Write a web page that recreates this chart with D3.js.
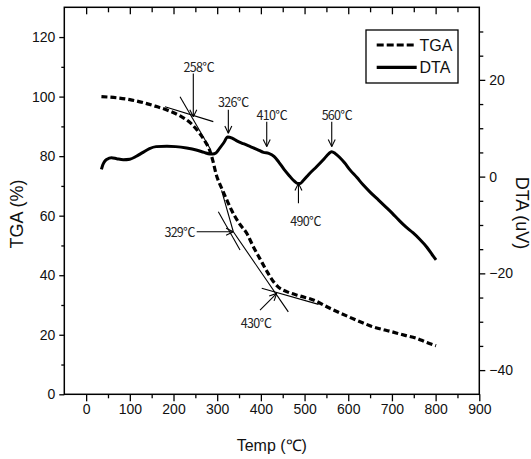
<!DOCTYPE html>
<html><head><meta charset="utf-8">
<script src="https://cdn.jsdelivr.net/npm/d3@7"></script>
<style>
html,body{margin:0;padding:0;background:#fff;}
svg{display:block;}
</style></head>
<body>
<script>
// ---- data ----
const tempTGA = [35, 70, 100, 130, 158, 185, 215, 240, 258, 272, 284, 290, 298, 310, 322, 333, 350, 368, 383, 398, 413, 428, 440, 459, 490, 520, 558, 600, 630, 654, 700, 730, 755, 780, 801];
const tgaValues = [100, 99.6, 99, 98, 96.8, 95.5, 93.5, 91, 88, 85, 81.5, 78.5, 73.7, 69.3, 65.3, 61.8, 57.5, 54, 49.5, 45.5, 41.5, 38, 36, 34.5, 33, 31.7, 28.9, 26.1, 24.2, 22.8, 21, 19.8, 18.9, 17.4, 16.3];
const tempDTA = [35, 38, 42, 48, 58, 70, 85, 100, 115, 128, 145, 160, 185, 205, 230, 252, 270, 283, 290, 297, 305, 315, 324, 335, 345, 360, 376, 392, 406, 418, 430, 441, 453, 465, 476, 484, 490, 497, 510, 528, 545, 555, 562, 570, 580, 592, 604, 620, 634, 650, 670, 685, 701, 716, 732, 748, 763, 780, 795, 801];
const dtaValues = [1.5, 2.4, 3.1, 3.6, 3.9, 3.7, 3.5, 3.6, 4.2, 4.9, 5.8, 6.2, 6.3, 6.2, 5.9, 5.5, 5.0, 4.7, 4.7, 4.9, 5.8, 7.0, 8.2, 7.9, 7.4, 6.8, 6.2, 5.6, 5.0, 4.8, 4.2, 3.0, 1.5, 0.2, -0.9, -1.4, -1.4, -0.8, 0.5, 2.1, 3.7, 4.7, 5.15, 4.8, 4.0, 2.8, 1.4, -0.2, -1.7, -3.2, -4.9, -6.2, -7.6, -9.0, -10.4, -11.6, -12.9, -14.6, -16.5, -17.2];

const xTickLabels = [0, 100, 200, 300, 400, 500, 600, 700, 800, 900];
const xMinorTicks = [-50, 50, 150, 250, 350, 450, 550, 650, 750, 850];
const tgaTickLabels = [0, 20, 40, 60, 80, 100, 120];
const tgaMinorTicks = [10, 30, 50, 70, 90, 110];
const dtaTickLabels = [-40, -20, 0, 20];
const dtaMinorTicks = [-35, -30, -25, -15, -10, -5, 5, 10, 15, 25, 30];

const seriesNames = ["TGA", "DTA"];
const titles = {x: "Temp (\u2103)", yLeft: "TGA (%)", yRight: "DTA (uV)"};

// annotations: labels (temp, value, axis), arrows, tangent lines
const annLabels = [
  {text: "258\u2103", t: 258, v: 109.6, axis: "tga", anchor: "middle"},
  {text: "326\u2103", t: 337, v: 15.2, axis: "dta", anchor: "middle"},
  {text: "410\u2103", t: 425, v: 12.7, axis: "dta", anchor: "middle"},
  {text: "560\u2103", t: 574, v: 12.7, axis: "dta", anchor: "middle"},
  {text: "490\u2103", t: 502, v: -9.3, axis: "dta", anchor: "middle"},
  {text: "329\u2103", t: 249, v: 54.4, axis: "tga", anchor: "end"},
  {text: "430\u2103", t: 389, v: 23.6, axis: "tga", anchor: "middle"}
];
// arrows: from [t,v] to [t,v] (head at 'to')
const annArrows = [
  {axis: "tga", from: [245.3, 107.8], to: [245.3, 93.2]},
  {axis: "dta", from: [325.5, 13.8], to: [325.5, 8.95]},
  {axis: "dta", from: [413.4, 11.35], to: [413.4, 6.2]},
  {axis: "dta", from: [562.2, 11.35], to: [562.2, 6.2]},
  {axis: "dta", from: [486, -5.5], to: [486, -1.4]},
  {axis: "tga", from: [253.1, 54.6], to: [336.9, 54.6]},
  {axis: "tga", from: [398, 28.3], to: [436.3, 33.9]}
];
const annLines = [
  {axis: "tga", from: [214.9, 99.97], to: [283.6, 82.6]},
  {axis: "tga", from: [180.5, 96.6], to: [291.1, 91.6]},
  {axis: "tga", from: [310, 68.5], to: [336.9, 54.6]},
  {axis: "tga", from: [302.6, 61.3], to: [352.3, 48.5]},
  {axis: "tga", from: [336.9, 54.6], to: [462.8, 27.7]},
  {axis: "tga", from: [401.9, 35.6], to: [532, 30.2]}
];

// ---- layout ----
const W = 531, H = 459;
const L = 64.3, R = 479.3, T = 7.3, B = 394.3;

const x = d3.scaleLinear().domain([-50, 900]).range([L, R]);
const yTGA = d3.scaleLinear().domain([0, 130]).range([B, T]);
const yDTA = d3.scaleLinear().domain([-45, 35]).range([B, T]);
const yOf = a => a === "tga" ? yTGA : yDTA;

const svg = d3.select("body").append("svg").attr("width", W).attr("height", H);
const tickFont = "'Liberation Sans Narrow','Liberation Sans',Arial,sans-serif";
const titleFont = "'Liberation Sans',Arial,sans-serif";
const cjkFont = "'Noto Sans CJK KR','Noto Sans CJK SC',sans-serif";

// frame
svg.append("rect").attr("x", L).attr("y", T).attr("width", R - L).attr("height", B - T)
  .attr("fill", "none").attr("stroke", "#000").attr("stroke-width", 1.5);

// bottom axis
svg.append("g").attr("transform", `translate(0,${B})`)
  .call(d3.axisBottom(x).tickValues(xTickLabels).tickSize(7).tickPadding(3).tickFormat(d3.format("d")));
svg.append("g").attr("transform", `translate(0,${B})`)
  .call(d3.axisBottom(x).tickValues(xMinorTicks.filter(d => d > -50)).tickSize(4).tickFormat(""));
// top axis (inward ticks)
svg.append("g").attr("transform", `translate(0,${T})`)
  .call(d3.axisBottom(x).tickValues(xTickLabels.filter(d => d < 900)).tickSize(7).tickFormat(""));
svg.append("g").attr("transform", `translate(0,${T})`)
  .call(d3.axisBottom(x).tickValues(xMinorTicks.filter(d => d > -50)).tickSize(5).tickFormat(""));
// left axis
svg.append("g").attr("transform", `translate(${L},0)`)
  .call(d3.axisLeft(yTGA).tickValues(tgaTickLabels).tickSize(5).tickPadding(4));
svg.append("g").attr("transform", `translate(${L},0)`)
  .call(d3.axisLeft(yTGA).tickValues(tgaMinorTicks).tickSize(3).tickFormat(""));
// right axis
svg.append("g").attr("transform", `translate(${R},0)`)
  .call(d3.axisRight(yDTA).tickValues(dtaTickLabels).tickSize(6).tickPadding(4));
svg.append("g").attr("transform", `translate(${R},0)`)
  .call(d3.axisRight(yDTA).tickValues(dtaMinorTicks).tickSize(4).tickFormat(""));

svg.selectAll(".domain").remove();
svg.selectAll(".tick line").attr("stroke", "#000").attr("stroke-width", 1.3);
svg.selectAll(".tick text").attr("font-family", tickFont).attr("font-size", 14).attr("fill", "#111");

// axis titles
svg.append("text").attr("transform", `translate(22.5,214) rotate(-90)`)
  .attr("text-anchor", "middle").attr("font-family", titleFont)
  .attr("font-size", 18).attr("fill", "#111").text(titles.yLeft);
svg.append("text").attr("transform", `translate(516,213) rotate(90)`)
  .attr("text-anchor", "middle").attr("font-family", titleFont)
  .attr("font-size", 18).attr("fill", "#111").text(titles.yRight);
svg.append("text").attr("x", (L + R) / 2).attr("y", 451)
  .attr("text-anchor", "middle").attr("font-family", titleFont)
  .attr("font-size", 16).attr("fill", "#111").text(titles.x);

// curves
const tgaData = tempTGA.map((t, i) => [t, tgaValues[i]]);
const dtaData = tempDTA.map((t, i) => [t, dtaValues[i]]);
svg.append("path").datum(dtaData)
  .attr("d", d3.line().x(d => x(d[0])).y(d => yDTA(d[1])).curve(d3.curveMonotoneX))
  .attr("fill", "none").attr("stroke", "#000").attr("stroke-width", 3).attr("stroke-linejoin", "round");
svg.append("path").datum(tgaData)
  .attr("d", d3.line().x(d => x(d[0])).y(d => yTGA(d[1])).curve(d3.curveMonotoneX))
  .attr("fill", "none").attr("stroke", "#000").attr("stroke-width", 3.2).attr("stroke-dasharray", "6,3");

// annotation lines
annLines.forEach(l => {
  const y = yOf(l.axis);
  svg.append("line").attr("x1", x(l.from[0])).attr("y1", y(l.from[1]))
    .attr("x2", x(l.to[0])).attr("y2", y(l.to[1]))
    .attr("stroke", "#000").attr("stroke-width", 1.1);
});
// arrows
annArrows.forEach(a => {
  const y = yOf(a.axis);
  const x1 = x(a.from[0]), y1 = y(a.from[1]), x2 = x(a.to[0]), y2 = y(a.to[1]);
  svg.append("line").attr("x1", x1).attr("y1", y1).attr("x2", x2).attr("y2", y2)
    .attr("stroke", "#000").attr("stroke-width", 1.1);
  const ang = Math.atan2(y2 - y1, x2 - x1), len = 8, spread = 0.45;
  [ang + Math.PI - spread, ang + Math.PI + spread].forEach(a2 => {
    svg.append("line").attr("x1", x2).attr("y1", y2)
      .attr("x2", x2 + len * Math.cos(a2)).attr("y2", y2 + len * Math.sin(a2))
      .attr("stroke", "#000").attr("stroke-width", 1.1);
  });
});
// labels
annLabels.forEach(l => {
  const y = yOf(l.axis);
  svg.append("text").attr("x", x(l.t)).attr("y", y(l.v)).attr("dy", "0.35em")
    .attr("text-anchor", l.anchor).attr("font-family", cjkFont).attr("font-size", 12.5)
    .attr("letter-spacing", "-0.7").attr("fill", "#222").text(l.text);
});

// legend
const lg = svg.append("g");
lg.append("rect").attr("x", 366).attr("y", 30).attr("width", 92).attr("height", 53)
  .attr("fill", "#fff").attr("stroke", "#000").attr("stroke-width", 1.3);
seriesNames.forEach((name, i) => {
  const yy = 45 + i * 22.3;
  lg.append("line").attr("x1", 376.7).attr("x2", 416.7).attr("y1", yy).attr("y2", yy)
    .attr("stroke", "#000").attr("stroke-width", 3.2)
    .attr("stroke-dasharray", i === 0 ? "7,3" : null);
  lg.append("text").attr("x", 419.5).attr("y", yy).attr("dy", "0.36em")
    .attr("font-family", tickFont).attr("font-size", 16).attr("fill", "#111").text(name);
});
</script>
</body></html>
